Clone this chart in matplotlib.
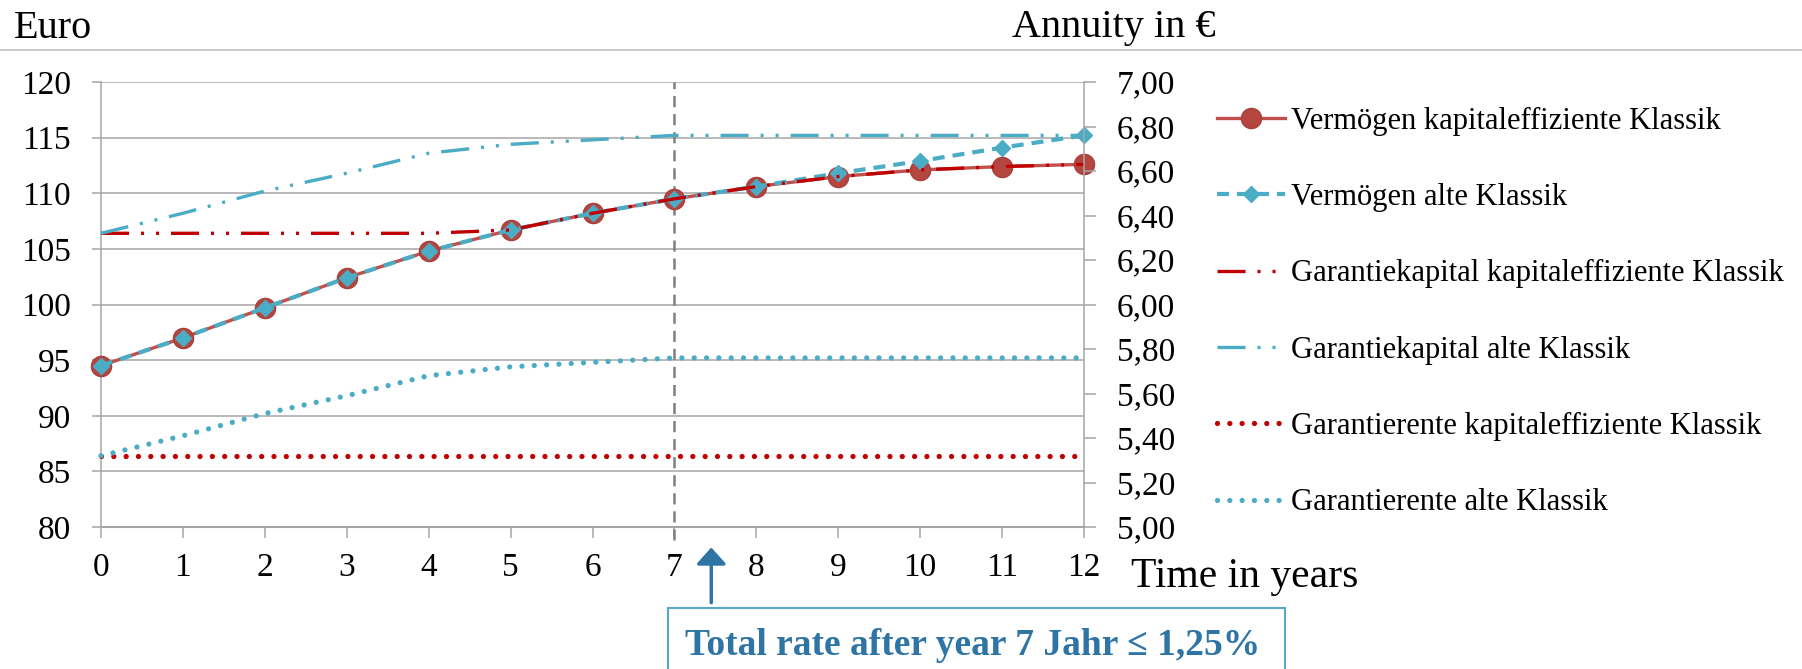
import numpy as np
import matplotlib
matplotlib.use("Agg")
import matplotlib.pyplot as plt
from matplotlib.ticker import FuncFormatter
from matplotlib.patches import Rectangle
from matplotlib.lines import Line2D

plt.rcParams['font.family'] = ['Liberation Serif', 'DejaVu Serif']
plt.rcParams['lines.scale_dashes'] = False

# values
years = [0, 1, 2, 3, 4, 5, 6, 7, 8, 9, 10, 11, 12]
verm_kap = [94.5, 97.0, 99.7, 102.4, 104.8, 106.7, 108.2, 109.5, 110.6, 111.5, 112.1, 112.4, 112.6]
verm_alt = [94.5, 97.0, 99.7, 102.4, 104.8, 106.7, 108.2, 109.5, 110.6, 111.8, 112.9, 114.1, 115.2]
gk_kap = [106.4, 106.4, 106.4, 106.4, 106.4, 106.7, 108.2, 109.5, 110.6, 111.5, 112.1, 112.4, 112.6]
gk_alt = [106.4, 108.2, 110.2, 111.8, 113.6, 114.4, 114.8, 115.2, 115.2, 115.2, 115.2, 115.2, 115.2]
# annuity (right axis)
gr_kap = [5.32, 5.32, 5.32, 5.32, 5.32, 5.32, 5.32, 5.32, 5.32, 5.32, 5.32, 5.32, 5.32]
gr_alt = [5.32, 5.41, 5.51, 5.59, 5.68, 5.72, 5.74, 5.76, 5.76, 5.76, 5.76, 5.76, 5.76]

labels = ["Vermögen kapitaleffiziente Klassik",
          "Vermögen alte Klassik",
          "Garantiekapital kapitaleffiziente Klassik",
          "Garantiekapital alte Klassik",
          "Garantierente kapitaleffiziente Klassik",
          "Garantierente alte Klassik"]

RED = '#C0504D'
DARKRED = '#C00000'
BLUE = '#4BACC6'
GRID = '#A6A6A6'
ANNO = '#2E75A6'

W, H = 1802, 669
fig = plt.figure(figsize=(W / 100, H / 100), dpi=100)
ax = fig.add_axes([101 / W, 142 / H, 983 / W, 445 / H])
ax2 = ax.twinx()

dashdotdot = (0, (20.2, 8.6, 2.2, 8.6, 2.2, 8.6))
dotted = (0, (0.01, 8.86))

l1, = ax.plot(years, verm_kap, color=RED, lw=2.4, marker='o', ms=14.5,
              mfc='#B5463F', mec='#A8403C', clip_on=False, zorder=3)
l2, = ax.plot(years, verm_alt, color=BLUE, lw=3.0, ls=(0, (8.6, 5.8)),
              marker='D', ms=8, mfc=BLUE, mec=BLUE, clip_on=False, zorder=4)
l3, = ax.plot(years, gk_kap, color=DARKRED, lw=2.4, ls=dashdotdot,
              dash_capstyle='butt', clip_on=False, zorder=5)
l4, = ax.plot(years, gk_alt, color=BLUE, lw=2.4, ls=dashdotdot,
              dash_capstyle='butt', clip_on=False, zorder=5)
l5, = ax2.plot(years, gr_kap, color=DARKRED, lw=3.8, ls=dotted,
               dash_capstyle='round', clip_on=False)
l6, = ax2.plot(years, gr_alt, color=BLUE, lw=3.8, ls=dotted,
               dash_capstyle='round', clip_on=False)

ax.set_xlim(0, 12)
ax.set_ylim(80, 120)
ax2.set_ylim(5, 7)
ax.set_xticks(years)
ax.set_yticks(np.arange(80, 121, 5))
ax.set_yticklabels([str(v) for v in range(80, 121, 5)])
ax.set_xticklabels([str(y) for y in years])
ax2.set_yticks(np.arange(5.0, 7.01, 0.2))
ax2.yaxis.set_major_formatter(FuncFormatter(lambda v, p: f"{v:.2f}".replace('.', ',')))

ax.grid(axis='y', color=GRID, lw=1.1)
ax.set_axisbelow(True)
for s in ['top', 'right']:
    ax.spines[s].set_visible(False)
for s in ['top', 'left', 'bottom']:
    ax2.spines[s].set_visible(False)
for s in ['left', 'bottom']:
    ax.spines[s].set_color(GRID)
    ax.spines[s].set_linewidth(1.1)
ax.spines['bottom'].set_linewidth(1.5)
ax2.spines['right'].set_color(GRID)
ax2.spines['right'].set_linewidth(1.1)

ax.tick_params(axis='y', length=6.5, width=1.1, color=GRID, pad=15, labelsize=24,
               labelfontfamily='Liberation Serif')
ax.tick_params(axis='x', length=8, width=1.1, color=GRID, pad=10, labelsize=24,
               labelfontfamily='Liberation Serif')
ax2.tick_params(axis='y', length=8.6, width=1.1, color=GRID, pad=15, labelsize=24,
                labelfontfamily='Liberation Serif')

# marker year 7
ax.axvline(7, ymin=-0.03, ymax=1, color='#7F7F7F', lw=1.8, ls=(0, (8, 5)),
           clip_on=False, zorder=2)

# headers and the line under them
fig.text(14 / W, 1 - 37.7 / H, "Euro", fontsize=29, va='baseline')
fig.text(1012 / W, 1 - 36.7 / H, "Annuity in €", fontsize=29, va='baseline')
fig.add_artist(Line2D([0, 1], [1 - 50 / H, 1 - 50 / H], transform=fig.transFigure,
                      color='#BFBFBF', lw=1.2))
fig.text(1131 / W, 1 - 586.7 / H, "Time in years", fontsize=30, va='baseline')

# legend
fig.legend([l1, l2, l3, l4, l5, l6], labels, loc='upper left',
           bbox_to_anchor=(1217 / W, 1 - 106.5 / H), frameon=False, fontsize=22,
           borderpad=0, borderaxespad=0, handlelength=2.22, handletextpad=0.2,
           labelspacing=1.55)

# annotation arrow + box
ax.annotate("", xy=(7.45, -0.046), xytext=(7.45, -0.17),
            xycoords=('data', 'axes fraction'), textcoords=('data', 'axes fraction'),
            arrowprops=dict(arrowstyle='-|>,head_length=0.5,head_width=0.45',
                            color=ANNO, lw=2.5, mutation_scale=20,
                            shrinkA=0, shrinkB=0),
            annotation_clip=False)
fig.add_artist(Rectangle((667.7 / W, -0.1), (1285 - 667.7) / W, 0.1 + 1 - 608 / H,
                         transform=fig.transFigure, fill=False, ec='#5AA6CB', lw=1.5))
fig.text(972.5 / W, 1 - 655 / H, "Total rate after year 7 Jahr ≤ 1,25%", fontsize=27,
         fontweight='bold', color=ANNO, ha='center', va='baseline')

fig.savefig("out.png", dpi=100)
